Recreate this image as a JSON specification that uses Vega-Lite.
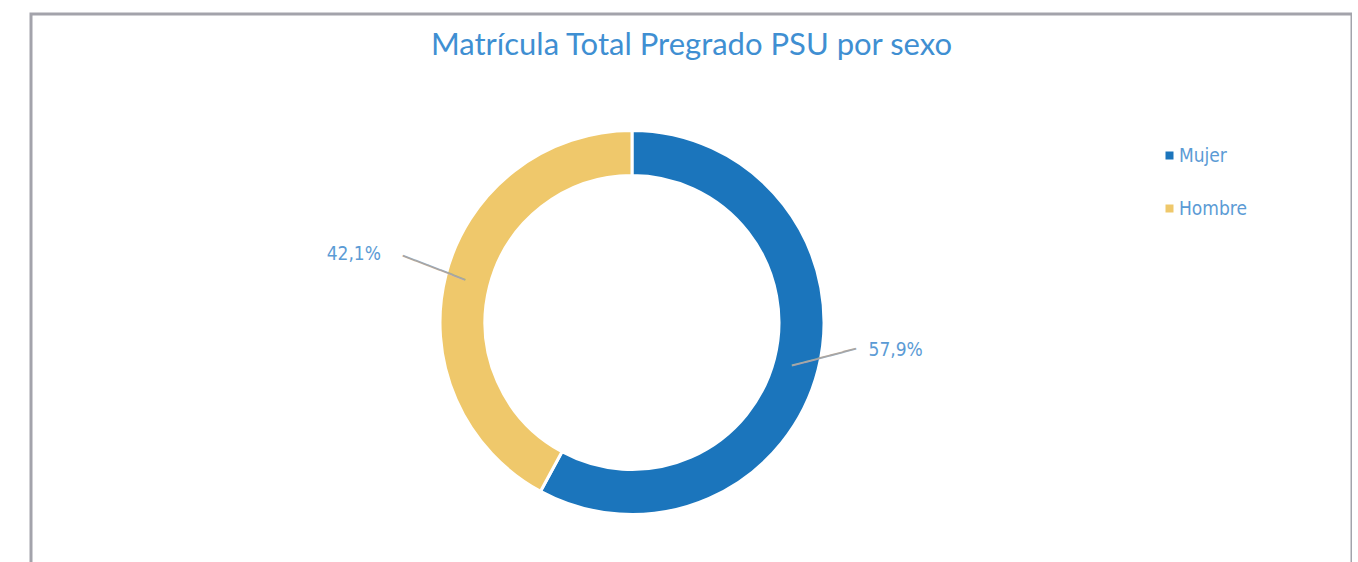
{
  "$schema": "https://vega.github.io/schema/vega-lite/v6.json",
  "autosize": "none",
  "width": 1321,
  "height": 620,
  "padding": {"left": 31, "top": 14, "right": 0, "bottom": 0},
  "background": "white",
  "config": {
    "view": {"stroke": null},
    "locale": {"number": {"decimal": ",", "thousands": ".", "grouping": [3], "currency": ["$", ""]}}
  },
  "title": {
    "text": "Matrícula Total Pregrado PSU por sexo",
    "anchor": "middle",
    "frame": "group",
    "baseline": "alphabetic",
    "offset": -73,
    "font": "Lato",
    "fontSize": 31,
    "fontWeight": "normal",
    "color": "#3f8fd2"
  },
  "layer": [
    {
      "data": {"values": [{"marco": 1}]},
      "mark": {"type": "rect", "fill": null, "stroke": "#a3a3ab", "strokeWidth": 3},
      "encoding": {}
    },
    {
      "data": {
        "values": [
          {"sexo": "Mujer", "valor": 0.579, "orden": 1},
          {"sexo": "Hombre", "valor": 0.421, "orden": 2}
        ]
      },
      "encoding": {
        "theta": {"field": "valor", "type": "quantitative", "stack": true},
        "order": {"field": "orden", "type": "quantitative"}
      },
      "layer": [
        {
          "mark": {"type": "arc", "x": 601, "y": 308.5, "outerRadius": 192, "innerRadius": 147, "stroke": "white", "strokeWidth": 3},
          "encoding": {
            "color": {
              "field": "sexo",
              "type": "nominal",
              "scale": {"domain": ["Mujer", "Hombre"], "range": ["#1b75bc", "#efc86b"]},
              "legend": {
                "title": null,
                "orient": "none",
                "legendX": 1129,
                "legendY": 132,
                "padding": 0,
                "symbolType": "square",
                "symbolSize": 64,
                "symbolStrokeWidth": 0,
                "labelFont": "DejaVu Sans Condensed, Roboto",
                "labelFontSize": 19,
                "labelColor": "#5b9bd5",
                "labelOffset": 0,
                "rowPadding": 33
              }
            }
          }
        },
        {
          "mark": {
            "type": "text",
            "x": 601,
            "y": 308.5,
            "radius": {"expr": "datum.sexo === 'Mujer' ? 272 : 287"},
            "dy": {"expr": "datum.sexo === 'Mujer' ? -39 : 2"},
            "font": "DejaVu Sans Condensed, Roboto",
            "fontSize": 19,
            "color": "#5b9bd5",
            "baseline": "middle",
            "align": "center"
          },
          "encoding": {
            "text": {"field": "valor", "type": "quantitative", "format": ".1%"}
          }
        },
        {
          "mark": {
            "type": "text",
            "x": 601,
            "y": 308.5,
            "text": "─────",
            "radius": {"expr": "datum.sexo === 'Mujer' ? 202 : 206"},
            "dy": {"expr": "datum.sexo === 'Mujer' ? -15 : -4"},
            "angle": {"expr": "datum.sexo === 'Mujer' ? -14.7 : 21.2"},
            "font": "DejaVu Sans",
            "fontSize": 22,
            "color": "#a6a6a6",
            "baseline": "middle",
            "align": "center"
          },
          "encoding": {}
        }
      ]
    }
  ]
}
